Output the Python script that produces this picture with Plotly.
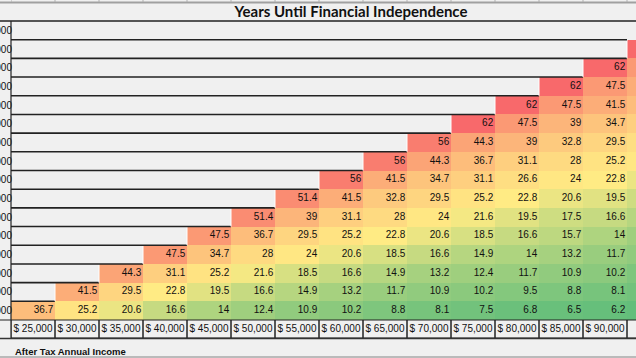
import numpy as np
import plotly.graph_objects as go

# ---------------- data ----------------
income_labels = ["$ 25,000", "$ 30,000", "$ 35,000", "$ 40,000", "$ 45,000",
                 "$ 50,000", "$ 55,000", "$ 60,000", "$ 65,000", "$ 70,000",
                 "$ 75,000", "$ 80,000", "$ 85,000", "$ 90,000", "$ 95,000"]
expense_labels = ["$ 20,000", "$ 25,000", "$ 30,000", "$ 35,000", "$ 40,000",
                  "$ 45,000", "$ 50,000", "$ 55,000", "$ 60,000", "$ 65,000",
                  "$ 70,000", "$ 75,000", "$ 80,000", "$ 85,000", "$ 90,000",
                  "$ 95,000"]

# years until FI for each income column, from lowest expense row upward
years_25k = [36.7]
years_30k = [25.2, 41.5]
years_35k = [20.6, 29.5, 44.3]
years_40k = [16.6, 22.8, 31.1, 47.5]
years_45k = [14, 19.5, 25.2, 34.7, 47.5]
years_50k = [12.4, 16.6, 21.6, 28, 36.7, 51.4]
years_55k = [10.9, 14.9, 18.5, 24, 29.5, 39, 51.4]
years_60k = [10.2, 13.2, 16.6, 20.6, 25.2, 31.1, 41.5, 56]
years_65k = [8.8, 11.7, 14.9, 18.5, 22.8, 28, 32.8, 41.5, 56]
years_70k = [8.1, 10.9, 13.2, 16.6, 20.6, 24, 29.5, 34.7, 44.3, 56]
years_75k = [7.5, 10.2, 12.4, 14.9, 18.5, 21.6, 25.2, 31.1, 36.7, 44.3, 62]
years_80k = [6.8, 9.5, 11.7, 14, 16.6, 19.5, 22.8, 26.6, 31.1, 39, 47.5, 62]
years_85k = [6.5, 8.8, 10.9, 13.2, 15.7, 17.5, 20.6, 24, 28, 32.8, 39, 47.5, 62]
years_90k = [6.2, 8.1, 10.2, 11.7, 14, 16.6, 19.5, 22.8, 25.2, 29.5, 34.7, 41.5, 47.5, 62]
years_95k = [5.9, 7.5, 8.8, 10.9, 12.4, 14.9, 17.5, 20.6, 24, 26.6, 31.1, 36.7, 41.5, 47.5, 62]

columns = [years_25k, years_30k, years_35k, years_40k, years_45k, years_50k,
           years_55k, years_60k, years_65k, years_70k, years_75k, years_80k,
           years_85k, years_90k, years_95k]

n_rows = len(expense_labels)
n_cols = len(income_labels)
z = [[(columns[c][r] if r < len(columns[c]) else None) for c in range(n_cols)]
     for r in range(n_rows)]

vals = [v for col in columns for v in col]
vmin, vmax = min(vals), max(vals)
vmid = float(np.percentile(vals, 50))
mid_pos = (vmid - vmin) / (vmax - vmin)

# ---------------- geometry ----------------
W, H = 636, 358
ML, MR, MT, MB = 11, 0, 21, 38
PW, PH = W - ML - MR, H - MT - MB
COLW = 44.0
x_hi = -0.5 + PW / COLW


def py(pix):  # pixel y -> paper y
    return (H - MB - pix) / PH


def px(pix):  # pixel x -> paper x
    return (pix - ML) / PW


BG = "#F0F0F0"
fig = go.Figure()
fig.add_trace(go.Heatmap(
    z=z, x=list(range(n_cols)), y=list(range(n_rows)),
    zmin=vmin, zmax=vmax,
    colorscale=[[0, "#63BE7B"], [mid_pos, "#FFEB84"], [1, "#F8696B"]],
    showscale=False, hoverinfo="skip",
))

tx, ty, tt = [], [], []
for c in range(n_cols):
    for r, v in enumerate(columns[c]):
        if c + 0.5 <= x_hi:
            tx.append(c + 0.46)
            ty.append(r)
            tt.append(f"{v:g}")
fig.add_trace(go.Scatter(
    x=tx, y=ty, text=tt, mode="text", textposition="middle left",
    textfont=dict(family="Liberation Sans", size=10, color="#111"),
    hoverinfo="skip", showlegend=False, cliponaxis=True,
))

shapes = []
# borders of the empty staircase regions
for r in range(1, n_rows):
    xe = min(r, n_cols - 1) - 0.5
    shapes.append(dict(type="line", xref="x", yref="y", x0=-0.5, x1=xe,
                       y0=r - 0.5, y1=r - 0.5,
                       line=dict(color="#222", width=1.6)))
    if r < n_cols:
        shapes.append(dict(type="line", xref="x", yref="y", x0=r - 0.5, x1=r - 0.5,
                           y0=r - 0.5, y1=r + 0.5,
                           line=dict(color="#FFFFFF", width=1)))
# top border of table
shapes.append(dict(type="line", xref="paper", yref="paper", x0=px(0), x1=1,
                   y0=1, y1=1, line=dict(color="#222", width=1.6)))
# left border
shapes.append(dict(type="line", xref="paper", yref="paper", x0=0, x1=0,
                   y0=py(338), y1=1, line=dict(color="#222", width=1.2)))
# x label boxes
for c in range(n_cols):
    shapes.append(dict(type="rect", xref="x", yref="paper", x0=c - 0.5, x1=c + 0.5,
                       y0=py(338), y1=0, line=dict(color="#222", width=1),
                       fillcolor="rgba(0,0,0,0)"))
shapes.append(dict(type="line", xref="paper", yref="paper", x0=px(0), x1=0,
                   y0=0, y1=0, line=dict(color="#222", width=1)))
shapes.append(dict(type="line", xref="paper", yref="paper", x0=px(0), x1=1,
                   y0=py(338.5), y1=py(338.5), line=dict(color="#333", width=1.5)))
# bottom sheet line
shapes.append(dict(type="line", xref="paper", yref="paper", x0=px(0), x1=1,
                   y0=py(357), y1=py(357), line=dict(color="#A8A8A8", width=1.5)))
# spreadsheet header strip at top
shapes.append(dict(type="line", xref="paper", yref="paper", x0=px(0), x1=1,
                   y0=py(2.5), y1=py(2.5), line=dict(color="#A0A0A0", width=2)))
for c in range(n_cols + 1):
    shapes.append(dict(type="line", xref="x", yref="paper", x0=c - 0.5, x1=c - 0.5,
                       y0=py(0), y1=py(2), line=dict(color="#B0B0B0", width=1)))

fig.update_layout(
    width=W, height=H,
    margin=dict(l=ML, r=MR, t=MT, b=MB, pad=0, autoexpand=False),
    paper_bgcolor=BG, plot_bgcolor=BG,
    showlegend=False,
    shapes=shapes,
    title=dict(text="<b>Years Until Financial Independence</b>",
               xref="container", yref="container", x=351 / W, xanchor="center",
               y=1 - 12 / H, yanchor="middle",
               font=dict(family="Lato", size=15, color="#111")),
    annotations=[dict(text="<b>After Tax Annual Income</b>", xref="paper", yref="paper",
                      x=px(13), y=py(351.5), xanchor="left", yanchor="middle",
                      showarrow=False,
                      font=dict(family="Liberation Sans", size=9.5, color="#111"))],
    xaxis=dict(range=[-0.5, x_hi], tickvals=list(range(n_cols)), ticktext=income_labels,
               showgrid=False, zeroline=False, ticks="", showline=False,
               automargin=False, ticklabelstandoff=1,
               tickfont=dict(family="Liberation Sans", size=10, color="#111"),
               fixedrange=True),
    yaxis=dict(range=[-0.5, n_rows - 0.5], tickvals=list(range(n_rows)),
               ticktext=expense_labels, showgrid=False, zeroline=False, ticks="",
               showline=False, automargin=False, ticklabelstandoff=-2,
               tickfont=dict(family="Liberation Sans", size=10, color="#111"),
               fixedrange=True),
)

fig.write_html("out.html", config={"displayModeBar": False},
               post_script="document.body.style.margin='0';document.body.style.background='#F0F0F0';")
